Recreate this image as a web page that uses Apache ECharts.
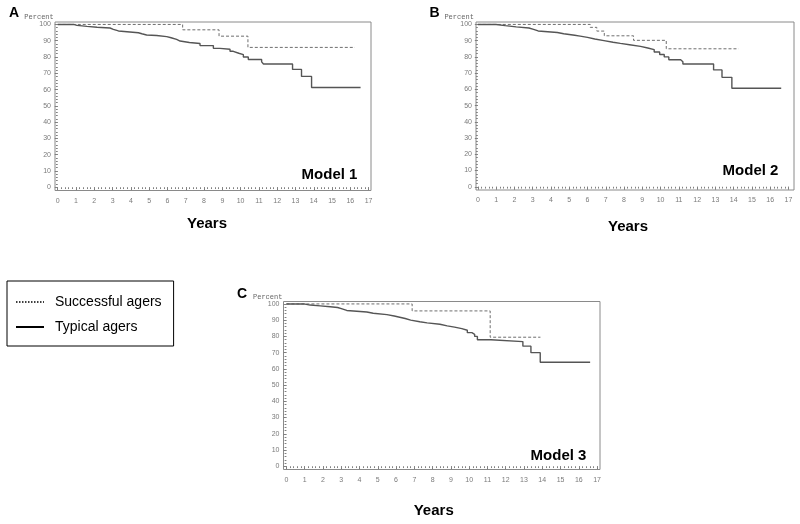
<!DOCTYPE html>
<html>
<head>
<meta charset="utf-8">
<script src="https://cdn.jsdelivr.net/npm/echarts@6/dist/echarts.min.js"></script>
<style>html,body{margin:0;padding:0;background:#fff}#c{width:800px;height:524px}</style>
</head>
<body>
<div id="c"></div>
<script>
// ---- Data (time in years, percent surviving) ----
const xTicks = [0,1,2,3,4,5,6,7,8,9,10,11,12,13,14,15,16,17];
const yTicks = [0,10,20,30,40,50,60,70,80,90,100];
const seriesNames = ['Successful agers', 'Typical agers'];
const panelLetters = ['A', 'B', 'C'];
const modelLabels = ['Model 1', 'Model 2', 'Model 3'];

const model1Successful = [[0,100],[6.83,96.7],[8.82,92.8],[10.4,85.9],[16.25,85.9]];
const model1Typical = [[0,100],[0.86,99.4],[1.05,98.8],[1.6,98.3],[2.15,97.8],[2.86,97],[3.04,96],[3.32,94.9],[4.41,94.3],[4.6,93.5],[4.86,93.2],[5.41,92.5],[5.96,91.8],[6.2,90.8],[6.5,89.8],[6.69,88.9],[7.2,88.3],[7.78,87],[8.51,85.3],[8.87,84.8],[9.42,83.5],[9.6,82.3],[9.9,81.5],[10.15,80],[10.42,78.5],[11.15,77],[11.25,75.7],[12.84,72.4],[13.33,68.1],[13.88,61.3],[16.56,61.3]];

const model2Successful = [[0,100],[6.15,98.2],[6.51,95.9],[6.92,93],[8.52,90.2],[10.31,85],[14.27,85]];
const model2Typical = [[0,100],[1.0,99.3],[1.5,98.5],[2.1,97.8],[2.8,97],[3.05,96],[3.3,95],[4.35,94.3],[4.7,93.3],[5.3,92.8],[5.6,92],[6.0,91],[6.4,90],[6.9,89],[7.4,88.3],[7.8,87.5],[8.3,86.5],[8.9,85.5],[9.3,84.5],[9.65,83],[9.95,81.5],[10.2,80],[10.45,78.2],[11.1,77],[11.22,75.6],[12.9,72],[13.36,67.4],[13.9,60.7],[16.6,60.7]];

const model3Successful = [[0,100],[6.88,95.7],[11.15,79.5],[13.9,79.5]];
const model3Typical = [[0,100],[0.95,99.3],[1.3,98.8],[1.85,98.3],[2.4,97.8],[2.8,97],[3.05,96],[3.3,95],[4.4,94.3],[4.75,93.4],[5.5,92.6],[5.9,91.8],[6.2,91],[6.5,90],[6.8,89],[7.3,88.3],[7.7,87.5],[8.4,86.5],[8.8,85.7],[9.2,84.8],[9.6,83.8],[9.9,82.3],[10.15,81.3],[10.3,80],[10.45,77.9],[11.19,76.8],[12.94,74],[13.38,70],[13.89,64.1],[16.62,64.1]];

const successfulByModel = [model1Successful, model2Successful, model3Successful];
const typicalByModel = [model1Typical, model2Typical, model3Typical];

// ---- Layout (positions / styles only) ----
const layout = [
  {grid:{left:55, top:22, width:316, height:168.5}, xMin:-0.15, xMax:17.13, letter:[14,13], model:[329.5,174.5], years:[207,223.8]},
  {grid:{left:476, top:22, width:318, height:168}, xMin:-0.1, xMax:17.3, letter:[434.5,13.6], model:[750.5,171], years:[628,226.5]},
  {grid:{left:283.5, top:301.5, width:316.5, height:168}, xMin:-0.16, xMax:17.16, letter:[242,294], model:[558.5,455.5], years:[433.7,510.8]}
];
const yMin = -2, yMax = 101.5;
const xMinor = []; for (let i = 0; i <= 85; i++) xMinor.push(+(i * 0.2).toFixed(1));
const yMinor = []; for (let i = 0; i <= 50; i++) yMinor.push(i * 2);

const tickColor = '#808080', labelColor = '#7a7a7a';
const grids = [], xAxes = [], yAxes = [], series = [], graphics = [];

layout.forEach((p, i) => {
  grids.push(Object.assign({show:true, borderColor:'#8a8a8a', borderWidth:1, backgroundColor:'transparent'}, p.grid));
  xAxes.push({gridIndex:i, type:'value', position:'bottom', min:p.xMin, max:p.xMax,
    axisLine:{show:false}, splitLine:{show:false},
    axisTick:{show:true, customValues:xTicks, length:3, lineStyle:{color:tickColor, width:1}},
    axisLabel:{show:true, customValues:xTicks, fontSize:7, color:labelColor, margin:7, fontFamily:'Liberation Sans'}});
  xAxes.push({gridIndex:i, type:'value', position:'bottom', offset:0, min:p.xMin, max:p.xMax,
    axisLine:{show:false}, splitLine:{show:false},
    axisTick:{show:true, customValues:xMinor, length:1.8, lineStyle:{color:tickColor, width:1}},
    axisLabel:{show:false}});
  yAxes.push({gridIndex:i, type:'value', position:'left', min:yMin, max:yMax,
    name:'Percent', nameLocation:'end', nameGap:1,
    nameTextStyle:{fontSize:7, color:'#666', fontFamily:'Liberation Mono', align:'right', verticalAlign:'bottom', padding:[0,4,0,0]},
    axisLine:{show:false}, splitLine:{show:false},
    axisTick:{show:true, customValues:yTicks, length:3, lineStyle:{color:tickColor, width:1}},
    axisLabel:{show:true, customValues:yTicks, fontSize:7, color:labelColor, margin:4, fontFamily:'Liberation Sans'}});
  yAxes.push({gridIndex:i, type:'value', position:'left', offset:0, min:yMin, max:yMax,
    axisLine:{show:false}, splitLine:{show:false},
    axisTick:{show:true, customValues:yMinor, length:1.8, lineStyle:{color:tickColor, width:1}},
    axisLabel:{show:false}});

  series.push({name:seriesNames[0], type:'line', step:'end', xAxisIndex:2*i, yAxisIndex:2*i,
    data:successfulByModel[i], symbol:'none', silent:true,
    itemStyle:{color:'#6e6e6e'},
    lineStyle:{color:'#6e6e6e', width:1, type:[3,2]}});
  series.push({name:seriesNames[1], type:'line', step:'end', xAxisIndex:2*i, yAxisIndex:2*i,
    data:typicalByModel[i], symbol:'none', silent:true,
    itemStyle:{color:'#555'},
    lineStyle:{color:'#555', width:1.4}});

  graphics.push({type:'text', x:p.letter[0], y:p.letter[1], style:{text:panelLetters[i], font:'bold 14px "Liberation Sans"', fill:'#000', textAlign:'center', textVerticalAlign:'middle'}});
  graphics.push({type:'text', x:p.model[0], y:p.model[1], style:{text:modelLabels[i], font:'bold 15px "Liberation Sans"', fill:'#000', textAlign:'center', textVerticalAlign:'middle'}});
  graphics.push({type:'text', x:p.years[0], y:p.years[1], style:{text:'Years', font:'bold 15px "Liberation Sans"', fill:'#000', textAlign:'center', textVerticalAlign:'middle'}});
});

const chart = echarts.init(document.getElementById('c'), null, {renderer:'canvas'});
chart.setOption({
  animation:false,
  backgroundColor:'#fff',
  grid:grids, xAxis:xAxes, yAxis:yAxes, series:series, graphic:graphics,
  legend:{
    orient:'vertical', left:7, top:281,
    borderColor:'#000', borderWidth:1, padding:[14,12,12,8],
    itemWidth:28, itemHeight:14, itemGap:11, selectedMode:false,
    itemStyle:{opacity:0},
    textStyle:{fontSize:14, color:'#000', fontFamily:'Liberation Sans', padding:[0,0,0,6], lineHeight:14},
    data:[
      {name:seriesNames[0], itemStyle:{opacity:0}, lineStyle:{color:'#000', type:'dotted', width:1.5, opacity:1}},
      {name:seriesNames[1], itemStyle:{opacity:0}, lineStyle:{color:'#000', type:'solid', width:2, opacity:1}}
    ]
  }
});
</script>
</body>
</html>
